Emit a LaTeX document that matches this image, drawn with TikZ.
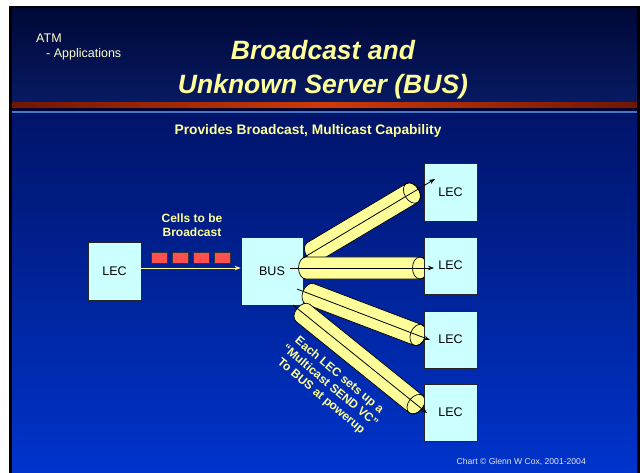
\documentclass[tikz,border=0pt]{standalone}
\usepackage{fontspec}
\setmainfont{Liberation Sans}
\usetikzlibrary{arrows.meta,calc}
\definecolor{ttlyel}{HTML}{FFFF99}
\definecolor{lightyel}{HTML}{FFFFCC}
\definecolor{hdrtop}{HTML}{000838}
\definecolor{hdrbot}{HTML}{071A62}
\definecolor{bodytop}{HTML}{00146A}
\definecolor{bodybot}{HTML}{0034CC}
\definecolor{reddark}{HTML}{701600}
\definecolor{redbright}{HTML}{D03A08}
\definecolor{bluestripe}{HTML}{3A7CCC}
\definecolor{boxfill}{HTML}{CCFFFF}
\definecolor{cellred}{HTML}{FF5050}
\definecolor{tubefill}{HTML}{FFFF99}
\tikzset{
  lecbox/.style={draw=black!85, line width=0.8pt, fill=boxfill, minimum width=53pt, minimum height=57pt, inner sep=0pt, font=\fontsize{12.5}{14}\selectfont, text=black},
  cellbox/.style={draw=black!80, line width=0.6pt, fill=cellred, minimum width=16pt, minimum height=11pt, inner sep=0pt},
  tubebody/.style={draw=black, line width=0.7pt, fill=tubefill},
  blkarrow/.style={draw=black, line width=0.8pt, -{Stealth[length=6pt,width=4.5pt]}},
  yelarrow/.style={draw=ttlyel, line width=0.9pt, -{Stealth[length=6pt,width=4.5pt]}},
  yeltext/.style={text=ttlyel, font=\fontsize{12}{14}\selectfont\bfseries, align=center, inner sep=0pt},
  hdrtext/.style={anchor=base west, text=lightyel, font=\fontsize{12.5}{14}\selectfont, inner sep=0pt},
  titletext/.style={anchor=base, text=ttlyel, font=\fontsize{26.5}{30}\selectfont\bfseries\itshape, inner sep=0pt}
}
\newcommand{\mytube}[3]{%
  \begin{scope}[shift={#1}, rotate=#2]
    \path[tubebody] (0,11) arc[start angle=90, end angle=270, x radius=7.5, y radius=11]
      -- (#3,-11) arc[start angle=270, end angle=450, x radius=7.5, y radius=11] -- cycle;
    \draw[line width=0.7pt] (#3,0) ellipse[x radius=7.5, y radius=11];
  \end{scope}}
\begin{document}
\begin{tikzpicture}[x=1pt,y=-1pt]
\useasboundingbox (0,0) rectangle (640,473);
\fill[white] (0,0) rectangle (640,473);
\fill[black] (9,6) rectangle (640,473);
\shade[top color=hdrtop, bottom color=hdrbot] (12,9) rectangle (637,103);
\shade[left color=reddark, right color=reddark, middle color=redbright] (12,103) rectangle (637,108.5);
\fill[black!80!blue] (12,108.5) rectangle (637,111);
\fill[bluestripe] (12,111) rectangle (637,113);
\fill[hdrtop] (12,113) rectangle (637,115);
\shade[top color=bodytop, bottom color=bodybot] (12,115) rectangle (637,473);

% header texts
\node[hdrtext] (atm) at (36,43) {ATM};
\node[hdrtext] (app) at (46,57.5) {- Applications};
\node[titletext] (t1) at (323,59.5) {Broadcast and};
\node[titletext] (t2) at (323,93.3) {Unknown Server (BUS)};
\node[anchor=base, text=ttlyel, font=\fontsize{13.8}{16}\selectfont\bfseries, inner sep=0pt] (sub) at (308,135) {Provides Broadcast, Multicast Capability};

% left part
\node[lecbox, minimum height=58pt] (lecA) at (114.5,271) {LEC};
\node[lecbox, minimum width=62pt, minimum height=68pt] (bus) at (272,271) {BUS};
\node[cellbox] (c1) at (159,257.5) {};
\node[cellbox] (c2) at (180,257.5) {};
\node[cellbox] (c3) at (201,257.5) {};
\node[cellbox] (c4) at (222,257.5) {};
\node[yeltext] (cells) at (192,225) {Cells to be\\Broadcast};
\draw[yelarrow] ([yshift=3pt]lecA.east) -- ([yshift=3pt]lecA.east -| bus.west);

% tubes
\mytube{(313,252)}{30.8}{115.2}
\mytube{(306,268)}{0}{114}
\mytube{(310,294)}{-20.8}{115.5}
\mytube{(303,313)}{-38.9}{145.2}

% right LEC boxes
\node[lecbox, minimum height=58pt] (lec1) at (450.5,192) {LEC};
\node[lecbox] (lec2) at (450.5,265.5) {LEC};
\node[lecbox] (lec3) at (450.5,339.5) {LEC};
\node[lecbox] (lec4) at (450.5,412.5) {LEC};

% arrows
\coordinate (s1) at (303,258); \coordinate (e1) at (435,179);
\coordinate (s2) at (290,268); \coordinate (e2) at (434,268);
\coordinate (s3) at (297,289); \coordinate (e3) at (430,340);
\coordinate (s4) at (293,305); \coordinate (e4) at (427,413);
\draw[blkarrow] (s1) -- (e1);
\draw[blkarrow] (s2) -- (e2);
\draw[blkarrow] (s3) -- (e3);
\draw[blkarrow] (s4) -- (e4);

\node[yeltext, rotate=-40] (each) at (330,386) {Each LEC sets up a\\``Multicast SEND VC''\\To BUS at powerup};

\node[anchor=base east, text=black!10, font=\fontsize{8.6}{10}\selectfont, inner sep=0pt] (copy) at (586,464) {Chart © Glenn W Cox, 2001-2004};
\end{tikzpicture}
\end{document}
